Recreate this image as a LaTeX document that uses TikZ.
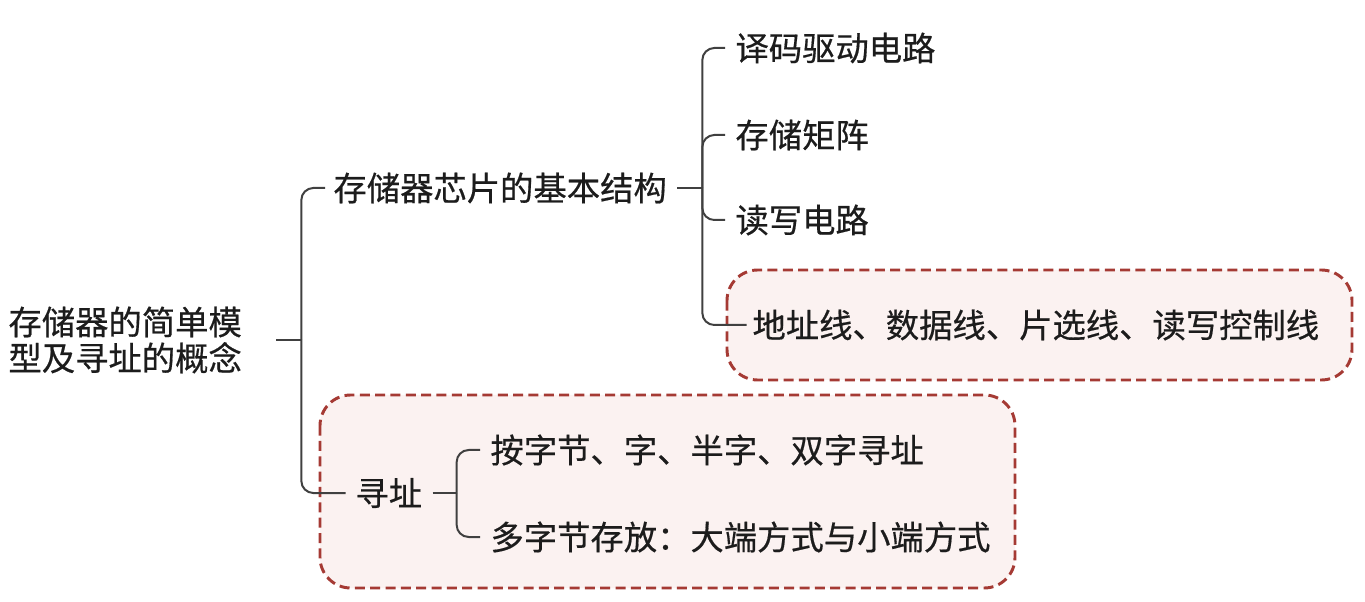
\documentclass[tikz,border=0pt]{standalone}
\usepackage{fontspec}
\setmainfont{Noto Sans CJK SC}[FakeBold=0.5]
\definecolor{boxred}{RGB}{165,58,52}
\definecolor{boxfill}{RGB}{251,242,241}
\definecolor{linkgray}{RGB}{64,64,64}
\definecolor{txt}{RGB}{28,28,28}

\tikzset{every picture/.style={line width=0.75pt}}
\tikzset{
  topic/.style={anchor=west,inner sep=0pt,text=txt,font=\fontsize{25}{27}\selectfont},
  link/.style={draw=linkgray,line width=1.5pt,rounded corners=9pt},
  markbox/.style={draw=boxred,fill=boxfill,line width=2.2pt,dash pattern={on 7.5pt off 4pt},rounded corners=23pt}
}

\begin{document}
\begin{tikzpicture}[x=0.75pt,y=0.75pt,yscale=-1,xscale=1]
\useasboundingbox (0,0) rectangle (1365,602);

%Rounded Rect
\draw [markbox] (727,270) rectangle (1352,380) ;
%Rounded Rect
\draw [markbox] (320,395) rectangle (1015,588) ;

% Text Node
\node [topic,align=left] (root) at (8,340) {存储器的简单模\\型及寻址的概念};
% Text Node
\node [topic] (struct) at (333,188) {存储器芯片的基本结构};
% Text Node
\node [topic] (decode) at (735,48) {译码驱动电路};
% Text Node
\node [topic] (matrix) at (735,135) {存储矩阵};
% Text Node
\node [topic] (rwcirc) at (735,220) {读写电路};
% Text Node
\node [topic] (wires) at (752,325) {地址线、数据线、片选线、读写控制线};
% Text Node
\node [topic] (addr) at (355,493) {寻址};
% Text Node
\node [topic] (unit) at (490,450) {按字节、字、半字、双字寻址};
% Text Node
\node [topic] (endian) at (490,537) {多字节存放：大端方式与小端方式};

%Straight Lines
\draw [link] ([xshift=25.5pt]root.east) -- ++(25,0) coordinate (bar0) ;
\draw [link] (bar0) |- ([xshift=-6pt]struct.west) ;
\draw [link] (bar0) |- ([xshift=-7pt]addr.west) ;

%Straight Lines
\draw [link] ([xshift=7.5pt]struct.east) -- ++(25,0) coordinate (bar1) ;
\draw [link] (bar1) |- ([xshift=-7.5pt]decode.west) ;
\draw [link] (bar1) |- ([xshift=-7.5pt]matrix.west) ;
\draw [link] (bar1) |- ([xshift=-7.5pt]rwcirc.west) ;
\draw [link] (bar1) |- ([xshift=-4pt]wires.west) ;

%Straight Lines
\draw [link] ([xshift=7.5pt]addr.east) -- ++(24,0) coordinate (bar2) ;
\draw [link] (bar2) |- ([xshift=-7.5pt]unit.west) ;
\draw [link] (bar2) |- ([xshift=-7.5pt]endian.west) ;

\end{tikzpicture}
\end{document}
